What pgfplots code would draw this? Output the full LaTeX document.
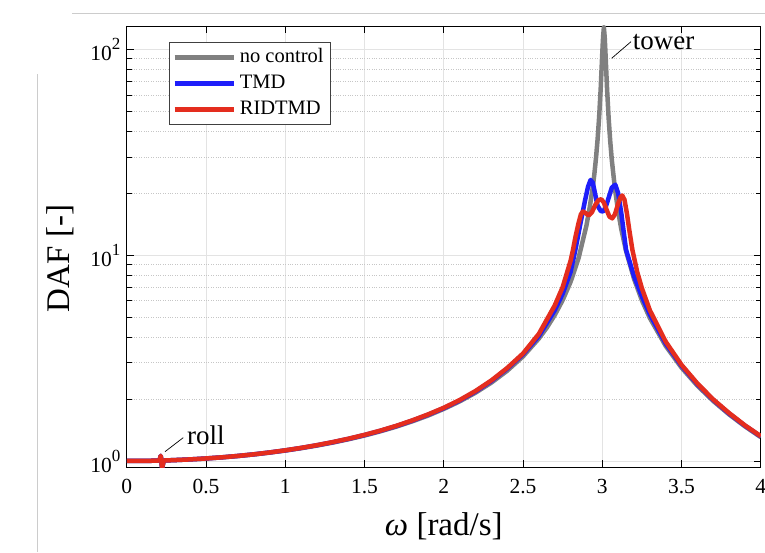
\documentclass[border=0pt]{standalone}
\usepackage{fontspec}
\setmainfont{Liberation Serif}
\usepackage{pgfplots}
\pgfplotsset{compat=1.18}
\definecolor{cgrey}{RGB}{128,128,128}
\definecolor{cblue}{RGB}{30,30,250}
\definecolor{cred}{RGB}{228,45,30}
\newcommand{\tl}[1]{\textrm{10\raisebox{11pt}{\fontsize{17}{17}\selectfont #1}}}
\newcommand{\xl}[1]{\textrm{#1}}
\begin{document}
\begin{tikzpicture}
\path[use as bounding box] (0,0) rectangle (765pt,552pt);
\draw[gray!40, line width=0.6pt] (37pt,0pt) -- (37pt,478pt);
\draw[gray!40, line width=0.6pt] (72pt,539pt) -- (765pt,539pt);
\begin{axis}[
  at={(126.8pt,85pt)}, anchor=south west,
  scale only axis, width=634pt, height=441pt,
  ymode=log,
  xmin=0, xmax=4, ymin=0.935, ymax=129.9,
  xtick={0,0.5,1,1.5,2,2.5,3,3.5,4},
  xticklabels={\xl{0},\xl{0.5},\xl{1},\xl{1.5},\xl{2},\xl{2.5},\xl{3},\xl{3.5},\xl{4}},
  ytick={1,10,100},
  yticklabels={\tl{0},\tl{1},\tl{2}},
  minor ytick={2,3,4,5,6,7,8,9,20,30,40,50,60,70,80,90},
  tick align=inside,
  major tick length=7pt, minor tick length=5pt,
  every tick/.style={black, line width=0.7pt},
  axis line style={black, line width=0.8pt},
  xmajorgrids, ymajorgrids, yminorgrids,
  major grid style={gray!22, line width=0.7pt},
  minor grid style={gray!45, dotted, line width=0.7pt},
  ticklabel style={font=\fontsize{21.5}{21.5}\selectfont},
  xticklabel style={yshift=-9pt},
  yticklabel style={xshift=-3pt},
  xlabel={\textit{ω} [rad/s]},
  ylabel={DAF [-]},
  label style={font=\fontsize{33}{33}\selectfont},
  xlabel style={at={(axis description cs:0.5,0)}, anchor=base, yshift=-68pt},
  ylabel style={at={(axis description cs:-0.0896,0.4728)}, anchor=base},
  legend style={at={(0.0666,0.9637)}, anchor=north west, draw=black!75, line width=0.6pt, fill=white,
    font=\fontsize{20.5}{20.5}\selectfont, inner xsep=3pt, inner ysep=2pt, row sep=0pt,
    nodes={inner sep=4pt, text height=14pt, text depth=4pt}},
  legend cell align=left,
  legend image code/.code={\draw[#1] (0pt,0pt) -- (59pt,0pt);},
  every axis plot/.append style={line width=4.5pt, line join=round},
]
\addplot[cgrey] coordinates {
(0,1.000) (0.1,1.001) (0.195,1.004) (0.205,1.010) (0.21,1.030) (0.214,1.060) (0.217,1.025) (0.22,0.960) (0.223,0.925) (0.227,0.955) (0.232,0.995) (0.24,1.006) (0.3,1.010) (0.4,1.018) (0.5,1.028) (0.6,1.041) (0.7,1.057) (0.8,1.076) (0.9,1.098) (1.0,1.124) (1.1,1.154) (1.2,1.189) (1.3,1.229) (1.4,1.276) (1.5,1.330) (1.6,1.394) (1.7,1.468) (1.8,1.557) (1.9,1.662) (2.0,1.791) (2.1,1.948) (2.2,2.147) (2.3,2.403) (2.4,2.745) (2.5,3.224) (2.6,3.939) (2.65,4.446) (2.7,5.119) (2.75,6.050) (2.8,7.426) (2.85,9.663) (2.9,13.94) (2.92,16.98) (2.94,21.45) (2.95,24.85) (2.96,29.5) (2.97,36.3) (2.98,46.9) (2.99,64.9) (3.0,96.6) (3.005,115) (3.01,128) (3.015,115) (3.02,95.9) (3.03,64.3) (3.04,46.3) (3.05,35.8) (3.06,29.0) (3.08,20.95) (3.1,16.33) (3.12,13.36) (3.15,10.47) (3.2,7.68) (3.25,6.03) (3.3,4.951) (3.4,3.624) (3.5,2.840) (3.6,2.323) (3.7,1.957) (3.8,1.684) (3.9,1.473) (4.0,1.306)
};
\addlegendentry{no control}
\addplot[cblue] coordinates {
(0,1.000) (0.1,1.001) (0.195,1.004) (0.205,1.010) (0.21,1.030) (0.214,1.060) (0.217,1.025) (0.22,0.960) (0.223,0.925) (0.227,0.955) (0.232,0.995) (0.24,1.006) (0.3,1.010) (0.4,1.018) (0.5,1.029) (0.6,1.042) (0.7,1.058) (0.8,1.077) (0.9,1.100) (1.0,1.126) (1.1,1.157) (1.2,1.193) (1.3,1.234) (1.4,1.282) (1.5,1.337) (1.6,1.402) (1.7,1.478) (1.8,1.569) (1.9,1.677) (2.0,1.806) (2.1,1.968) (2.2,2.175) (2.3,2.445) (2.4,2.810) (2.5,3.30) (2.6,4.05) (2.7,5.4) (2.75,6.5) (2.8,8.3) (2.83,10.6) (2.86,14.0) (2.89,18.3) (2.91,21.5) (2.926,23.2) (2.94,22.5) (2.955,19.8) (2.97,17.4) (2.99,16.4) (3.005,16.3) (3.02,17.0) (3.04,19.0) (3.06,21.3) (3.082,22.0) (3.10,20.0) (3.12,16.0) (3.135,13.0) (3.15,10.6) (3.2,7.9) (3.25,6.3) (3.3,5.15) (3.4,3.72) (3.5,2.90) (3.6,2.36) (3.7,1.98) (3.8,1.70) (3.9,1.485) (4.0,1.315)
};
\addlegendentry{TMD}
\addplot[cred] coordinates {
(0,1.000) (0.1,1.001) (0.195,1.004) (0.205,1.010) (0.21,1.030) (0.214,1.060) (0.217,1.025) (0.22,0.960) (0.223,0.925) (0.227,0.955) (0.232,0.995) (0.24,1.006) (0.3,1.010) (0.4,1.018) (0.5,1.029) (0.6,1.042) (0.7,1.058) (0.8,1.077) (0.9,1.100) (1.0,1.127) (1.1,1.158) (1.2,1.194) (1.3,1.236) (1.4,1.284) (1.5,1.340) (1.6,1.405) (1.7,1.482) (1.8,1.574) (1.9,1.683) (2.0,1.814) (2.1,1.978) (2.2,2.188) (2.3,2.462) (2.4,2.830) (2.5,3.33) (2.6,4.15) (2.7,5.7) (2.75,7.0) (2.8,9.4) (2.815,10.6) (2.83,12.2) (2.85,14.3) (2.865,15.8) (2.878,16.3) (2.895,16.0) (2.915,15.6) (2.935,16.2) (2.955,17.5) (2.975,18.5) (2.994,18.7) (3.01,18.0) (3.03,16.4) (3.045,15.4) (3.063,15.1) (3.08,15.8) (3.10,17.8) (3.115,19.1) (3.126,19.5) (3.14,18.6) (3.155,16.0) (3.17,13.3) (3.19,10.6) (3.22,8.3) (3.25,6.9) (3.3,5.4) (3.4,3.80) (3.5,2.93) (3.6,2.38) (3.7,1.99) (3.8,1.71) (3.9,1.49) (4.0,1.32)
};
\addlegendentry{RIDTMD}
\draw[black, line width=0.7pt] (axis cs:3.059,90.5) -- (axis cs:3.181,109.0);
\node[anchor=base west, inner sep=0pt, font=\fontsize{27}{27}\selectfont] at (axis cs:3.192,100.1) {tower};
\draw[black, line width=0.7pt] (axis cs:0.241,1.110) -- (axis cs:0.356,1.298);
\node[anchor=base west, inner sep=0pt, font=\fontsize{27}{27}\selectfont] at (axis cs:0.380,1.209) {roll};
\end{axis}
\end{tikzpicture}
\end{document}
